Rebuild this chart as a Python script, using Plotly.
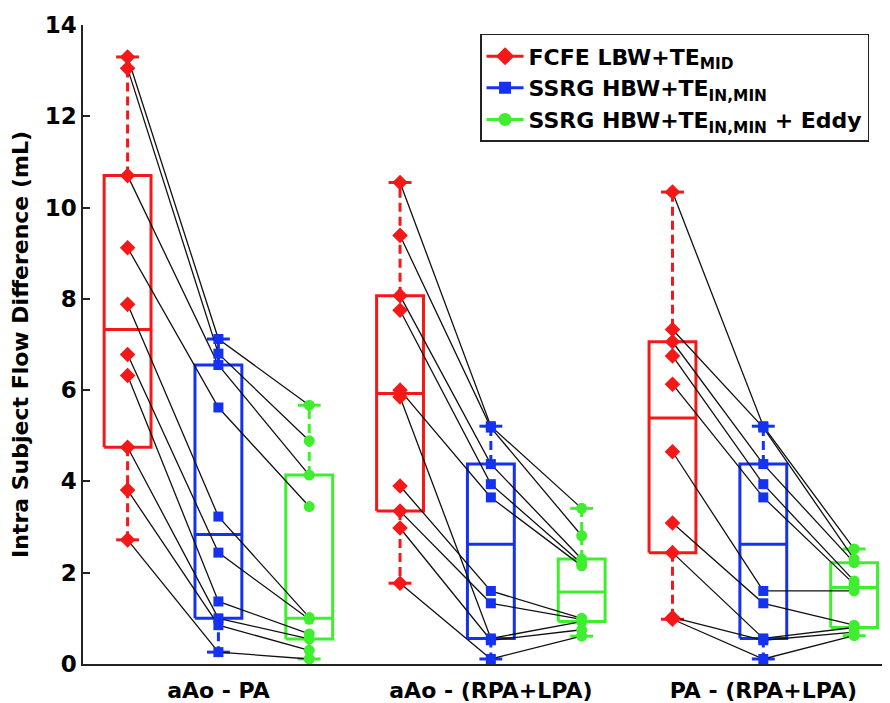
import plotly.graph_objects as go

# ---------------- data (one entry per subject, same order across methods) ----------------
categories = ["aAo - PA", "aAo - (RPA+LPA)", "PA - (RPA+LPA)"]
method_names = [
    "FCFE LBW+TE<sub>MID</sub>",
    "SSRG HBW+TE<sub>IN,MIN</sub>",
    "SSRG HBW+TE<sub>IN,MIN</sub> + Eddy",
]

# aAo - PA
fcfe_aao_pa = [13.3, 13.05, 10.7, 9.12, 7.88, 6.78, 6.32, 4.75, 3.81, 2.72]
ssrg_aao_pa = [7.12, 6.8, 6.55, 5.62, 3.23, 2.44, 1.37, 1.0, 0.85, 0.26]
eddy_aao_pa = [5.67, 4.89, 4.14, 3.45, 1.02, 0.98, 0.66, 0.55, 0.3, 0.11]

# aAo - (RPA+LPA)
fcfe_aao_branch = [10.55, 9.39, 8.07, 7.75, 6.0, 5.85, 3.9, 3.35, 2.98, 1.77]
ssrg_aao_branch = [5.21, 5.18, 4.38, 3.94, 3.65, 0.56, 1.6, 1.33, 0.52, 0.11]
eddy_aao_branch = [3.41, 2.81, 2.3, 2.2, 2.15, 0.93, 1.0, 0.98, 0.75, 0.61]

# PA - (RPA+LPA)
fcfe_pa_branch = [10.34, 7.33, 7.06, 6.75, 6.13, 4.65, 3.09, 2.44, 1.02, 0.98]
ssrg_pa_branch = [5.21, 5.18, 4.38, 3.94, 3.65, 1.6, 1.33, 0.56, 0.52, 0.11]
eddy_pa_branch = [2.52, 2.3, 2.22, 1.82, 1.75, 1.6, 0.85, 0.8, 0.7, 0.62]

y_ticks = [0, 2, 4, 6, 8, 10, 12, 14]

groups = [
    [fcfe_aao_pa, ssrg_aao_pa, eddy_aao_pa],
    [fcfe_aao_branch, ssrg_aao_branch, eddy_aao_branch],
    [fcfe_pa_branch, ssrg_pa_branch, eddy_pa_branch],
]

# ---------------- styling ----------------
colors = ["#F41818", "#1432F0", "#40EE30"]
symbols = ["diamond", "square", "circle"]
msizes = [12, 10, 11]
offsets = [-1 / 3, 0.0, 1 / 3]
box_half = 0.086
cap_half = 0.042
FONT = "DejaVu Sans, Liberation Sans, Arial, sans-serif"


def mprctile(vals, p):
    """MATLAB-style percentile."""
    s = sorted(vals)
    n = len(s)
    pos = p / 100.0 * n + 0.5
    if pos <= 1:
        return s[0]
    if pos >= n:
        return s[-1]
    lo = int(pos)
    frac = pos - lo
    return s[lo - 1] + frac * (s[lo] - s[lo - 1])


fig = go.Figure()

# boxes, whiskers, caps
for gi, grp in enumerate(groups):
    c = gi + 1
    for mi, vals in enumerate(grp):
        xc = c + offsets[mi]
        q1 = mprctile(vals, 25)
        med = mprctile(vals, 50)
        q3 = mprctile(vals, 75)
        iqr = q3 - q1
        hi = max(v for v in vals if v <= q3 + 1.5 * iqr)
        lo = min(v for v in vals if v >= q1 - 1.5 * iqr)
        col = colors[mi]
        fig.add_trace(go.Scatter(
            x=[xc, xc, None, xc, xc], y=[q3, hi, None, q1, lo],
            mode="lines", line=dict(color=col, width=3, dash="9px,5px"),
            showlegend=False, hoverinfo="skip"))
        fig.add_trace(go.Scatter(
            x=[xc - cap_half, xc + cap_half, None, xc - cap_half, xc + cap_half],
            y=[hi, hi, None, lo, lo],
            mode="lines", line=dict(color=col, width=3),
            showlegend=False, hoverinfo="skip"))
        fig.add_trace(go.Scatter(
            x=[xc - box_half, xc + box_half, xc + box_half, xc - box_half, xc - box_half,
               None, xc - box_half, xc + box_half],
            y=[q1, q1, q3, q3, q1, None, med, med],
            mode="lines", line=dict(color=col, width=3),
            showlegend=False, hoverinfo="skip"))

# subject connecting lines
for gi, grp in enumerate(groups):
    c = gi + 1
    xs, ys = [], []
    for i in range(len(grp[0])):
        for mi in range(3):
            xs.append(c + offsets[mi])
            ys.append(grp[mi][i])
        xs.append(None)
        ys.append(None)
    fig.add_trace(go.Scatter(x=xs, y=ys, mode="lines",
                             line=dict(color="#111111", width=1.3),
                             showlegend=False, hoverinfo="skip"))

# markers
for gi, grp in enumerate(groups):
    c = gi + 1
    for mi, vals in enumerate(grp):
        fig.add_trace(go.Scatter(
            x=[c + offsets[mi]] * len(vals), y=vals, mode="markers",
            marker=dict(symbol=symbols[mi], size=msizes[mi], color=colors[mi]),
            showlegend=False))

# legend entries
for mi in range(3):
    fig.add_trace(go.Scatter(
        x=[None], y=[None], mode="lines+markers", name=method_names[mi],
        line=dict(color=colors[mi], width=3),
        marker=dict(symbol=symbols[mi], size=msizes[mi] + 2, color=colors[mi]),
        showlegend=True))

# page has an 8px body margin, so the figure is 882x695 placed at (8, 8)
fig.update_layout(
    width=882, height=695,
    margin=dict(l=75, r=0, t=17, b=39),
    plot_bgcolor="white", paper_bgcolor="white",
    font=dict(family=FONT, color="black"),
    showlegend=True,
    legend=dict(
        x=0.492, y=0.986, xanchor="left", yanchor="top",
        bgcolor="white", bordercolor="#222222", borderwidth=1.5,
        font=dict(family=FONT, size=22, weight="bold", color="black"),
        tracegroupgap=0, itemwidth=37,
    ),
    xaxis=dict(
        range=[0.503, 3.465], tickvals=[1, 2, 3], ticktext=categories,
        showline=True, linecolor="#222222", linewidth=1.5, mirror=False,
        showgrid=False, zeroline=False, ticks="", automargin=False,
        ticklabelstandoff=6,
        tickfont=dict(family=FONT, size=22, weight="bold", color="black"),
    ),
    yaxis=dict(
        range=[0, 14], tickvals=y_ticks, automargin=False,
        showline=True, linecolor="#222222", linewidth=1.5, mirror=False,
        showgrid=False, zeroline=False, ticks="inside", ticklen=7, tickwidth=1.5,
        tickcolor="#222222",
        tickfont=dict(family=FONT, size=23, weight="bold", color="black"),
        title=dict(text="Intra Subject Flow Difference (mL)",
                   font=dict(family=FONT, size=22, weight="bold", color="black"),
                   standoff=12),
    ),
)

fig.write_html("out.html")
